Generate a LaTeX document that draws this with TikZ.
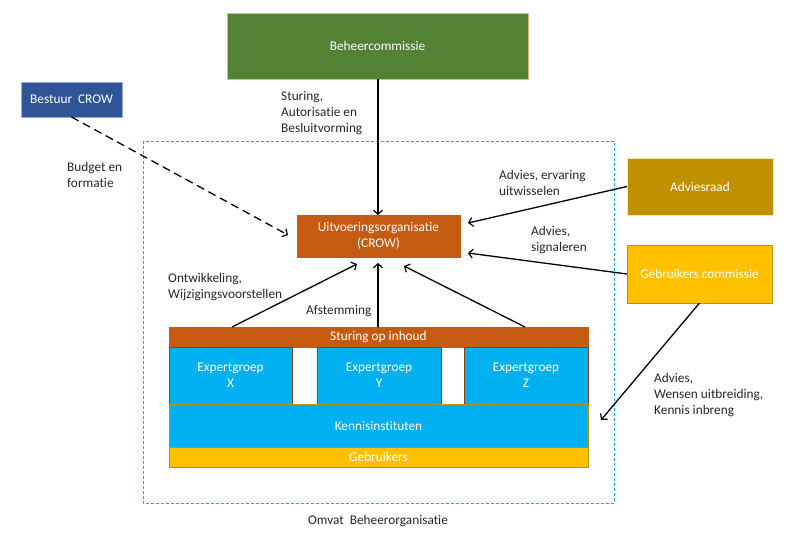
\documentclass[tikz,border=0pt]{standalone}
\usepackage{fontspec}
\setmainfont{Carlito}[Ligatures=NoCommon]
\usetikzlibrary{arrows.meta,calc}
\definecolor{cgreen}{HTML}{548235}
\definecolor{cgreenb}{HTML}{F4B183}
\definecolor{cblue}{HTML}{2F5597}
\definecolor{cblueb}{HTML}{8FAADC}
\definecolor{corange}{HTML}{C55A11}
\definecolor{cgold}{HTML}{BF9000}
\definecolor{cgoldb}{HTML}{FFE699}
\definecolor{cyellow}{HTML}{FFC000}
\definecolor{ccyan}{HTML}{00B0F0}
\definecolor{ctext}{HTML}{262626}
\begin{document}
\begin{tikzpicture}[x=1pt,y=-1pt,
  every node/.style={font=\fontsize{13.3}{16}\selectfont},
  box/.style={inner sep=0pt, outer sep=0pt, line width=0.8pt, text=white, align=center},
  lbl/.style={inner sep=0pt, text=ctext, align=left, anchor=north west},
  arr/.style={line width=1.3pt, -{Straight Barb[length=4pt,width=9pt,line width=1.2pt]}},
  frame/.style={draw=ccyan, line width=0.7pt, dash pattern=on 3pt off 2pt}]
\useasboundingbox (0,0) rectangle (800,538);
% frame
\draw[frame] (143,141) rectangle (614,503);
% boxes
\node[box, fill=cgreen, draw=cgreenb, minimum width=301pt, minimum height=66pt] (beh) at (377.5,46) {Beheercommissie};
\node[box, fill=cblue, draw=cblueb, minimum width=101pt, minimum height=35pt] (bestuur) at (71.5,99.5) {Bestuur\ \ CROW};
\node[box, fill=corange, draw=corange, minimum width=163pt, minimum height=42pt] (uitv) at (378.5,236) {Uitvoeringsorganisatie\\(CROW)};
\node[box, fill=cgold, draw=cgoldb, minimum width=146pt, minimum height=57pt] (advies) at (700,186.5) {Adviesraad};
\node[box, fill=cyellow, draw=cgold, minimum width=145pt, minimum height=58pt] (gebrc) at (699.5,274) {Gebruikers commissie};
\node[box, fill=corange, draw=corange, minimum width=419pt, minimum height=20pt] (sturing) at (378.5,337) {Sturing op inhoud};
\node[box, fill=ccyan, draw=corange!70!black, line width=0.6pt, minimum width=123pt, minimum height=57pt] (expx) at (230.5,375.5) {Expertgroep\\X};
\node[box, fill=ccyan, draw=corange!70!black, line width=0.6pt, minimum width=124pt, minimum height=57pt] (expy) at (379,375.5) {Expertgroep\\Y};
\node[box, fill=ccyan, draw=corange!70!black, line width=0.6pt, minimum width=124pt, minimum height=57pt] (expz) at (526,375.5) {Expertgroep\\Z};
\node[box, fill=ccyan, draw=cgold, minimum width=419pt, minimum height=43pt] (kennis) at (378.5,425.5) {Kennisinstituten};
\node[box, fill=cyellow, draw=cgold, minimum width=419pt, minimum height=20pt] (gebr) at (378.5,457) {Gebruikers};
% free ends
\coordinate (dEnd) at (288,235);
\coordinate (aEnd) at (468,223);
\coordinate (gEnd) at (468,253);
\coordinate (kEnd) at (601,420);
\coordinate (lEnd) at (357,264);
\coordinate (mEnd) at (378,263);
\coordinate (rEnd) at (404,266);
\coordinate (lStart) at (232,327);
\coordinate (rStart) at (525,327);
% connectors
\draw[arr] (beh.south -| mEnd) -- (uitv.north -| mEnd);
\draw[arr, dash pattern=on 8pt off 5pt] (bestuur.south) -- (dEnd);
\draw[arr] (advies.west) -- (aEnd);
\draw[arr] (gebrc.west) -- (gEnd);
\draw[arr] (gebrc.south) -- (kEnd);
\draw[arr] (lStart) -- (lEnd);
\draw[arr] (sturing.north -| mEnd) -- (mEnd);
\draw[arr] (rStart) -- (rEnd);
% labels
\node[lbl] (l1) at (281,91) {Sturing,\\Autorisatie en\\Besluitvorming};
\node[lbl] (l2) at (67,162) {Budget en\\formatie};
\node[lbl] (l3) at (499,170) {Advies, ervaring\\uitwisselen};
\node[lbl] (l4) at (531,226) {Advies,\\signaleren};
\node[lbl] (l5) at (654,373) {Advies,\\Wensen uitbreiding,\\Kennis inbreng};
\node[lbl] (l6) at (168,273) {Ontwikkeling,\\Wijzigingsvoorstellen};
\node[lbl] (l7) at (306,305) {Afstemming};
\node[lbl, anchor=center] (l8) at (378,521) {Omvat\ \ Beheerorganisatie};
\end{tikzpicture}
\end{document}
